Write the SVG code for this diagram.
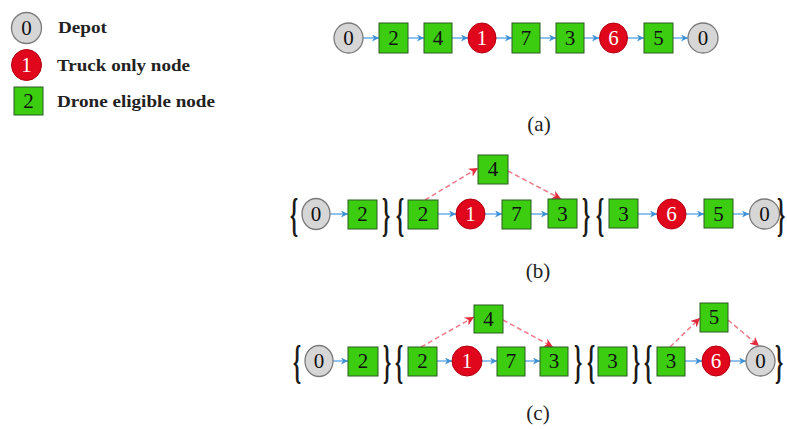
<svg xmlns="http://www.w3.org/2000/svg" width="787" height="430" viewBox="0 0 787 430">
<defs>
<marker id="ab" viewBox="0 0 10 10" refX="10" refY="5" markerWidth="7" markerHeight="7" markerUnits="userSpaceOnUse" orient="auto">
<path d="M0,0 L10,5 L0,10 L3,5 Z" fill="#3d8fd6"/>
</marker>
<marker id="ar" viewBox="0 0 10 10" refX="10" refY="5" markerWidth="9" markerHeight="9" markerUnits="userSpaceOnUse" orient="auto">
<path d="M0,0 L10,5 L0,10 L3,5 Z" fill="#e2283a"/>
</marker>
</defs>
<style>
.sq{fill:#3ccc10;stroke:#2b5a20;stroke-width:1}
.dep{fill:#d6d6d6;stroke:#7a7a7a;stroke-width:1.3}
.tr{fill:#e0061c;stroke:#b00010;stroke-width:1}
.n{font-family:"Liberation Serif",serif;font-size:21px;text-anchor:middle;fill:#111}
.w{fill:#fff}
.lg{font-family:"Liberation Serif",serif;font-size:17px;font-weight:bold;fill:#222}
.cap{font-family:"Liberation Serif",serif;font-size:21px;text-anchor:middle;fill:#222}
.br{font-family:"Liberation Serif",serif;font-size:46px;font-weight:bold;fill:#1a1a1a}
.b{stroke:#6aaee8;stroke-width:1.5;fill:none;marker-end:url(#ab)}
.r{stroke:#ec7a88;stroke-width:1.5;stroke-dasharray:5,3;fill:none;marker-end:url(#ar)}
</style>
<rect width="787" height="430" fill="#fff"/>

<g id="legend">
<g id="lg-depot"><ellipse class="dep" cx="26.5" cy="28" rx="15" ry="15.5"/><text class="n" x="26.5" y="35">0</text><text class="lg" x="58" y="33" textLength="49" lengthAdjust="spacingAndGlyphs">Depot</text></g>
<g id="lg-truck"><ellipse class="tr" cx="26.5" cy="65" rx="15" ry="15.5"/><text class="n w" x="26.5" y="72">1</text><text class="lg" x="57" y="71" textLength="133" lengthAdjust="spacingAndGlyphs">Truck only node</text></g>
<g id="lg-drone"><rect class="sq" x="14" y="87" width="29" height="28"/><text class="n" x="28.5" y="108">2</text><text class="lg" x="57" y="107" textLength="158" lengthAdjust="spacingAndGlyphs">Drone eligible node</text></g>
</g>

<g id="connectors">
<!-- row a -->
<line class="b" x1="363" y1="38" x2="379" y2="38"/>
<line class="b" x1="408" y1="38" x2="424" y2="38"/>
<line class="b" x1="452" y1="38" x2="468" y2="38"/>
<line class="b" x1="496" y1="38" x2="512" y2="38"/>
<line class="b" x1="540" y1="38" x2="556" y2="38"/>
<line class="b" x1="584" y1="38" x2="599" y2="38"/>
<line class="b" x1="628" y1="38" x2="644" y2="38"/>
<line class="b" x1="673" y1="38" x2="688" y2="38"/>
<!-- row b -->
<line class="b" x1="330" y1="214" x2="348" y2="214"/>
<line class="b" x1="438" y1="214" x2="456" y2="214"/>
<line class="b" x1="485" y1="214" x2="502" y2="214"/>
<line class="b" x1="531" y1="214" x2="548" y2="214"/>
<line class="b" x1="638" y1="214" x2="657" y2="214"/>
<line class="b" x1="686" y1="214" x2="704" y2="214"/>
<line class="b" x1="733" y1="214" x2="749" y2="214"/>
<path class="r" d="M425,200 L478,168"/>
<path class="r" d="M508,171 L561,199"/>
<!-- row c -->
<line class="b" x1="333" y1="361" x2="348" y2="361"/>
<line class="b" x1="437" y1="361" x2="452" y2="361"/>
<line class="b" x1="482" y1="361" x2="497" y2="361"/>
<line class="b" x1="525" y1="361" x2="540" y2="361"/>
<line class="b" x1="685" y1="361" x2="702" y2="361"/>
<line class="b" x1="730" y1="361" x2="746" y2="361"/>
<path class="r" d="M421,347 L474,317"/>
<path class="r" d="M503,320 L553,347"/>
<path class="r" d="M670,347 L700,318"/>
<path class="r" d="M728,320 L759,346"/>
</g>

<g id="row-a">
<g id="a0"><ellipse class="dep" cx="348.5" cy="38" rx="14.5" ry="15"/><text class="n" x="348.5" y="45">0</text></g>
<g id="a2"><rect class="sq" x="379" y="23" width="29" height="30"/><text class="n" x="393.5" y="45">2</text></g>
<g id="a4"><rect class="sq" x="424" y="23" width="28" height="30"/><text class="n" x="438" y="45">4</text></g>
<g id="a1"><ellipse class="tr" cx="482" cy="38" rx="14" ry="15"/><text class="n w" x="482" y="45">1</text></g>
<g id="a7"><rect class="sq" x="512" y="23" width="28" height="30"/><text class="n" x="526" y="45">7</text></g>
<g id="a3"><rect class="sq" x="556" y="23" width="28" height="30"/><text class="n" x="570" y="45">3</text></g>
<g id="a6"><ellipse class="tr" cx="613.5" cy="38" rx="14" ry="15"/><text class="n w" x="613.5" y="45">6</text></g>
<g id="a5"><rect class="sq" x="644" y="23" width="29" height="30"/><text class="n" x="658.5" y="45">5</text></g>
<g id="a0e"><ellipse class="dep" cx="703" cy="38" rx="15" ry="15"/><text class="n" x="703" y="45">0</text></g>
</g>
<text class="cap" x="539" y="131">(a)</text>

<g id="row-b">
<text class="br" transform="translate(290,230) scale(0.45,1)" x="0" y="0">{</text>
<g id="b0"><ellipse class="dep" cx="316" cy="214" rx="14" ry="15.5"/><text class="n" x="316" y="221">0</text></g>
<g id="b2"><rect class="sq" x="348" y="200" width="29" height="29"/><text class="n" x="362.5" y="221">2</text></g>
<text class="br" transform="translate(382,230) scale(0.45,1)" x="0" y="0">}</text>
<text class="br" transform="translate(396,230) scale(0.45,1)" x="0" y="0">{</text>
<g id="b2b"><rect class="sq" x="408" y="200" width="30" height="29"/><text class="n" x="423" y="221">2</text></g>
<g id="b4"><rect class="sq" x="478" y="155" width="30" height="29"/><text class="n" x="493" y="176">4</text></g>
<g id="b1"><ellipse class="tr" cx="470.5" cy="214" rx="14.5" ry="15"/><text class="n w" x="470.5" y="221">1</text></g>
<g id="b7"><rect class="sq" x="502" y="200" width="29" height="29"/><text class="n" x="516.5" y="221">7</text></g>
<g id="b3"><rect class="sq" x="548" y="199" width="29" height="29"/><text class="n" x="562.5" y="221">3</text></g>
<text class="br" transform="translate(582,230) scale(0.45,1)" x="0" y="0">}</text>
<text class="br" transform="translate(596,230) scale(0.45,1)" x="0" y="0">{</text>
<g id="b3b"><rect class="sq" x="609" y="199" width="29" height="29"/><text class="n" x="623.5" y="221">3</text></g>
<g id="b6"><ellipse class="tr" cx="671.5" cy="214" rx="14.5" ry="15"/><text class="n w" x="671.5" y="221">6</text></g>
<g id="b5"><rect class="sq" x="704" y="199" width="29" height="29"/><text class="n" x="718.5" y="221">5</text></g>
<g id="b0e"><ellipse class="dep" cx="764.5" cy="214" rx="15" ry="15"/><text class="n" x="764.5" y="221">0</text></g>
<text class="br" transform="translate(777,230) scale(0.45,1)" x="0" y="0">}</text>
</g>
<text class="cap" x="538" y="278">(b)</text>

<g id="row-c">
<text class="br" transform="translate(293,377) scale(0.45,1)" x="0" y="0">{</text>
<g id="c0"><ellipse class="dep" cx="319" cy="361" rx="14" ry="15.5"/><text class="n" x="319" y="368">0</text></g>
<g id="c2"><rect class="sq" x="348" y="347" width="30" height="29"/><text class="n" x="363" y="368">2</text></g>
<text class="br" transform="translate(383,377) scale(0.45,1)" x="0" y="0">}</text>
<text class="br" transform="translate(395,377) scale(0.45,1)" x="0" y="0">{</text>
<g id="c2b"><rect class="sq" x="408" y="347" width="29" height="29"/><text class="n" x="422.5" y="368">2</text></g>
<g id="c4"><rect class="sq" x="474" y="305" width="29" height="28"/><text class="n" x="488.5" y="326">4</text></g>
<g id="c1"><ellipse class="tr" cx="467" cy="361" rx="15" ry="15"/><text class="n w" x="467" y="368">1</text></g>
<g id="c7"><rect class="sq" x="497" y="347" width="28" height="29"/><text class="n" x="511" y="368">7</text></g>
<g id="c3"><rect class="sq" x="540" y="347" width="28" height="29"/><text class="n" x="554" y="368">3</text></g>
<text class="br" transform="translate(574,377) scale(0.45,1)" x="0" y="0">}</text>
<text class="br" transform="translate(587,377) scale(0.45,1)" x="0" y="0">{</text>
<g id="c3b"><rect class="sq" x="598" y="347" width="29" height="29"/><text class="n" x="612.5" y="368">3</text></g>
<text class="br" transform="translate(632,377) scale(0.45,1)" x="0" y="0">}</text>
<text class="br" transform="translate(644,377) scale(0.45,1)" x="0" y="0">{</text>
<g id="c3c"><rect class="sq" x="657" y="347" width="28" height="29"/><text class="n" x="671" y="368">3</text></g>
<g id="c5"><rect class="sq" x="700" y="303" width="28" height="29"/><text class="n" x="714" y="324">5</text></g>
<g id="c6"><ellipse class="tr" cx="716" cy="361" rx="14" ry="15"/><text class="n w" x="716" y="368">6</text></g>
<g id="c0e"><ellipse class="dep" cx="760.5" cy="361" rx="14.5" ry="15"/><text class="n" x="760.5" y="368">0</text></g>
<text class="br" transform="translate(775,377) scale(0.45,1)" x="0" y="0">}</text>
</g>
<text class="cap" x="538" y="420">(c)</text>
</svg>
